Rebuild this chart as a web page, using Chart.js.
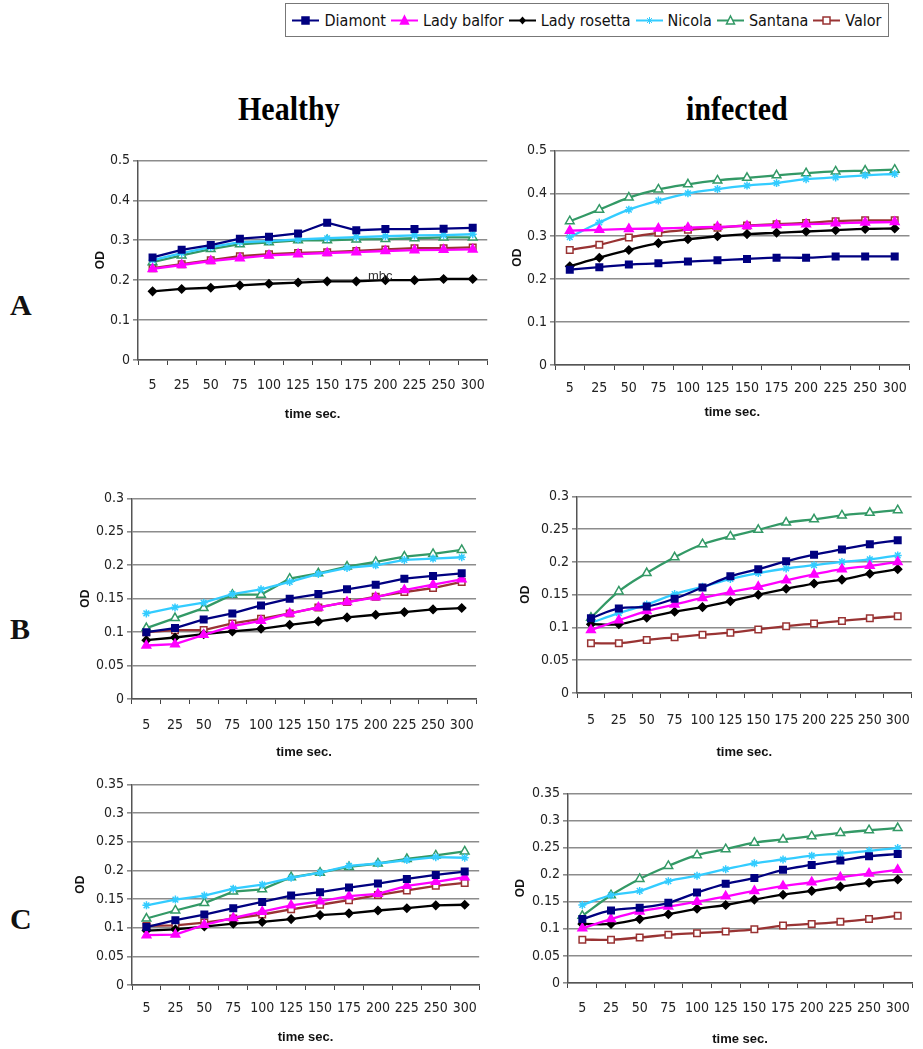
<!DOCTYPE html>
<html>
<head>
<meta charset="utf-8">
<script src="https://cdn.jsdelivr.net/npm/chart.js@4.4.1/dist/chart.umd.min.js"></script>
<style>
    body { margin: 0; background: #fff; width: 923px; height: 1049px; position: relative; overflow: hidden; }
    .panel { position: absolute; }
    .head { position: absolute; font-family: 'Liberation Serif', 'Times New Roman', serif; font-weight: bold; font-size: 30px; color: #000; transform: scaleY(1.15); transform-origin: center; }
    .row { position: absolute; font-family: 'Liberation Serif', 'Times New Roman', serif; font-weight: bold; font-size: 30px; color: #111; }
    #legend { position: absolute; left: 285px; top: 3px; width: 604px; height: 34px; border: 1px solid #777; box-sizing: border-box;
        display: flex; align-items: center; justify-content: space-around; padding: 0 4px;
        font-family: 'Liberation Sans Narrow', 'Arial Narrow', 'DejaVu Sans Condensed', 'Liberation Sans', sans-serif; font-size: 16px; color: #111; }
    #legend span.item { display: flex; align-items: center; }
    #legend svg { margin-right: 5px; }
    #mhc { position: absolute; left: 368px; top: 268px; font-family: 'Liberation Sans Narrow', 'Liberation Sans', sans-serif; font-size: 13px; color: #333; }
</style>
</head>
<body>

<div id="legend"></div>

<div class="head" style="left:238px; top:92px;">Healthy</div>
<div class="head" style="left:686px; top:92px;">infected</div>

<div class="row" style="left:10px; top:288px;">A</div>
<div class="row" style="left:10px; top:612px;">B</div>
<div class="row" style="left:10px; top:902px;">C</div>

<div class="panel" id="aHealthy"><canvas></canvas></div>
<div class="panel" id="aInfected"><canvas></canvas></div>
<div class="panel" id="bHealthy"><canvas></canvas></div>
<div class="panel" id="bInfected"><canvas></canvas></div>
<div class="panel" id="cHealthy"><canvas></canvas></div>
<div class="panel" id="cInfected"><canvas></canvas></div>

<div id="mhc">mhc</div>

<script>
const times = ['5', '25', '50', '75', '100', '125', '150', '175', '200', '225', '250', '300'];
const varieties = ['Diamont', 'Lady balfor', 'Lady rosetta', 'Nicola', 'Santana', 'Valor'];

// rows follow the order of varieties
const healthyA = [
    [0.257, 0.276, 0.288, 0.304, 0.309, 0.317, 0.344, 0.325, 0.328, 0.328, 0.329, 0.331],
    [0.228, 0.238, 0.248, 0.255, 0.262, 0.265, 0.268, 0.270, 0.273, 0.275, 0.276, 0.277],
    [0.172, 0.178, 0.181, 0.187, 0.191, 0.194, 0.197, 0.197, 0.200, 0.200, 0.203, 0.203],
    [0.250, 0.268, 0.283, 0.295, 0.298, 0.302, 0.305, 0.308, 0.310, 0.312, 0.313, 0.315],
    [0.245, 0.262, 0.278, 0.290, 0.295, 0.300, 0.300, 0.302, 0.303, 0.305, 0.307, 0.307],
    [0.230, 0.240, 0.250, 0.260, 0.265, 0.268, 0.270, 0.273, 0.277, 0.280, 0.280, 0.282]
];
const infectedA = [
    [0.222, 0.228, 0.234, 0.237, 0.241, 0.244, 0.247, 0.250, 0.250, 0.253, 0.253, 0.253],
    [0.313, 0.315, 0.317, 0.318, 0.320, 0.322, 0.324, 0.326, 0.328, 0.330, 0.332, 0.333],
    [0.230, 0.250, 0.268, 0.284, 0.293, 0.300, 0.305, 0.308, 0.311, 0.314, 0.317, 0.318],
    [0.298, 0.332, 0.362, 0.383, 0.400, 0.410, 0.418, 0.424, 0.433, 0.437, 0.442, 0.445],
    [0.335, 0.362, 0.390, 0.409, 0.421, 0.430, 0.436, 0.442, 0.447, 0.451, 0.453, 0.455],
    [0.268, 0.280, 0.297, 0.308, 0.315, 0.320, 0.325, 0.328, 0.331, 0.335, 0.337, 0.337]
];
const healthyB = [
    [0.100, 0.106, 0.119, 0.128, 0.140, 0.150, 0.157, 0.164, 0.171, 0.180, 0.184, 0.188],
    [0.080, 0.082, 0.096, 0.109, 0.117, 0.128, 0.137, 0.145, 0.152, 0.163, 0.171, 0.179],
    [0.088, 0.092, 0.097, 0.101, 0.105, 0.111, 0.116, 0.122, 0.126, 0.130, 0.134, 0.136],
    [0.128, 0.137, 0.144, 0.157, 0.164, 0.175, 0.187, 0.196, 0.200, 0.208, 0.210, 0.212],
    [0.106, 0.121, 0.136, 0.156, 0.156, 0.180, 0.188, 0.198, 0.205, 0.213, 0.217, 0.223],
    [0.100, 0.103, 0.103, 0.113, 0.120, 0.128, 0.137, 0.145, 0.153, 0.160, 0.166, 0.175]
];
const infectedB = [
    [0.114, 0.129, 0.132, 0.144, 0.161, 0.178, 0.189, 0.201, 0.211, 0.219, 0.227, 0.233],
    [0.096, 0.111, 0.125, 0.135, 0.145, 0.154, 0.162, 0.172, 0.181, 0.189, 0.194, 0.200],
    [0.105, 0.105, 0.115, 0.124, 0.131, 0.140, 0.150, 0.159, 0.167, 0.173, 0.182, 0.189],
    [0.107, 0.122, 0.135, 0.151, 0.162, 0.174, 0.183, 0.190, 0.195, 0.200, 0.204, 0.210],
    [0.115, 0.155, 0.183, 0.207, 0.227, 0.239, 0.249, 0.260, 0.265, 0.271, 0.275, 0.279],
    [0.076, 0.076, 0.081, 0.085, 0.089, 0.092, 0.097, 0.102, 0.106, 0.110, 0.114, 0.117]
];
const healthyC = [
    [0.101, 0.113, 0.123, 0.134, 0.145, 0.156, 0.162, 0.170, 0.177, 0.185, 0.192, 0.198],
    [0.087, 0.088, 0.105, 0.117, 0.128, 0.139, 0.146, 0.155, 0.159, 0.173, 0.180, 0.188],
    [0.095, 0.097, 0.102, 0.107, 0.110, 0.115, 0.122, 0.125, 0.130, 0.134, 0.139, 0.140],
    [0.139, 0.149, 0.156, 0.168, 0.175, 0.187, 0.196, 0.208, 0.212, 0.218, 0.223, 0.222],
    [0.116, 0.130, 0.143, 0.163, 0.167, 0.188, 0.196, 0.206, 0.212, 0.220, 0.226, 0.233],
    [0.103, 0.104, 0.109, 0.116, 0.123, 0.132, 0.140, 0.148, 0.157, 0.165, 0.173, 0.178]
];
const infectedC = [
    [0.118, 0.134, 0.139, 0.148, 0.167, 0.183, 0.194, 0.209, 0.218, 0.226, 0.234, 0.238],
    [0.101, 0.118, 0.132, 0.141, 0.150, 0.160, 0.170, 0.179, 0.186, 0.195, 0.202, 0.209],
    [0.109, 0.109, 0.118, 0.127, 0.137, 0.144, 0.154, 0.163, 0.170, 0.178, 0.185, 0.191],
    [0.144, 0.162, 0.170, 0.188, 0.198, 0.210, 0.221, 0.228, 0.235, 0.239, 0.244, 0.249],
    [0.124, 0.162, 0.192, 0.216, 0.236, 0.247, 0.259, 0.265, 0.271, 0.277, 0.282, 0.286],
    [0.080, 0.080, 0.084, 0.089, 0.092, 0.095, 0.099, 0.106, 0.109, 0.113, 0.118, 0.124]
];

const colors = ['#000080', '#FF00FF', '#000000', '#33CCFF', '#339966', '#993333'];
const fills = ['#000080', '#FF00FF', '#000000', '#33CCFF', '#ffffff', '#ffffff'];
const markers = ['rect', 'triangle', 'rectRot', 'star', 'triangle', 'rect'];
const radii = [4.6, 5, 4, 4, 5, 4.6];

const NARROW = "'Liberation Sans Narrow', 'Arial Narrow', 'DejaVu Sans Condensed', 'Liberation Sans', sans-serif";
const SANS = "'Liberation Sans', Arial, sans-serif";

// legend, drawn as html
const legend = document.getElementById('legend');
varieties.forEach((name, i) => {
    let mark = '';
    if (markers[i] === 'rect') mark = `<rect x="10" y="4" width="7" height="7" fill="${fills[i]}" stroke="${colors[i]}" stroke-width="1.5"/>`;
    if (markers[i] === 'triangle') mark = `<polygon points="13.5,3 17.5,11 9.5,11" fill="${fills[i]}" stroke="${colors[i]}" stroke-width="1.5"/>`;
    if (markers[i] === 'rectRot') mark = `<polygon points="13.5,3.5 17,7.5 13.5,11.5 10,7.5" fill="${fills[i]}"/>`;
    if (markers[i] === 'star') mark = `<path d="M13.5 4v7M10 7.5h7M11 5l5 5M16 5l-5 5" stroke="${colors[i]}" stroke-width="1"/>`;
    const item = document.createElement('span');
    item.className = 'item';
    item.innerHTML = `<svg width="27" height="15"><line x1="0" y1="7.5" x2="27" y2="7.5" stroke="${colors[i]}" stroke-width="2"/>${mark}</svg>${name}`;
    legend.append(item);
});

function makePanel(id, box, rows, yMax, yStep, smooth) {
    const el = document.getElementById(id);
    const left = box.l - box.yW;
    const top = box.t - 10;
    el.style.left = left + 'px';
    el.style.top = top + 'px';
    el.style.width = (box.r + 4 - left) + 'px';
    el.style.height = (box.b + box.xH - top) + 'px';

    new Chart(el.querySelector('canvas'), {
        type: 'line',
        data: {
            labels: times,
            datasets: rows.map((vals, i) => ({
                label: varieties[i],
                data: vals,
                borderColor: colors[i],
                backgroundColor: fills[i],
                pointBorderColor: colors[i],
                pointBackgroundColor: fills[i],
                pointStyle: markers[i],
                pointRadius: radii[i],
                pointBorderWidth: 1.5,
                borderWidth: 2.3,
                tension: smooth ? 0.4 : 0
            }))
        },
        options: {
            responsive: true,
            maintainAspectRatio: false,
            animation: false,
            layout: { padding: { top: 10, right: 4, left: 0, bottom: 0 } },
            plugins: { legend: { display: false }, tooltip: { enabled: false } },
            scales: {
                x: {
                    offset: true,
                    grid: { offset: true, drawOnChartArea: false, tickLength: 5, color: '#444', lineWidth: 1 },
                    border: { color: '#555', width: 1.5 },
                    ticks: { font: { family: NARROW, size: 14 }, color: '#222', padding: box.tp, maxRotation: 0, autoSkip: false },
                    title: { display: true, text: 'time sec.', font: { family: SANS, size: 13, weight: 'bold' }, color: '#111', padding: 0 },
                    afterFit(scale) { scale.height = box.xH; }
                },
                y: {
                    min: 0,
                    max: yMax,
                    grid: { color: '#8c8c8c', lineWidth: 1.6, tickLength: 5 },
                    border: { color: '#555', width: 1.5 },
                    ticks: {
                        stepSize: yStep,
                        font: { family: NARROW, size: 14 },
                        color: '#222',
                        padding: 3,
                        callback: (v) => String(Number(v.toFixed(2)))
                    },
                    title: { display: true, text: 'OD', font: { family: SANS, size: 12, weight: 'bold' }, color: '#111', padding: 0 },
                    afterFit(scale) { scale.width = box.yW; }
                }
            }
        }
    });
}

makePanel('aHealthy', { l: 138, r: 493, t: 159, b: 360, yW: 45, xH: 62, tp: 12 }, healthyA, 0.5, 0.1, false);
makePanel('aInfected', { l: 555, r: 913, t: 149, b: 365, yW: 45, xH: 55, tp: 10 }, infectedA, 0.5, 0.1, true);
makePanel('bHealthy', { l: 132, r: 483, t: 497, b: 699, yW: 54, xH: 61, tp: 13 }, healthyB, 0.3, 0.05, false);
makePanel('bInfected', { l: 577, r: 920, t: 495, b: 693, yW: 59, xH: 67, tp: 14 }, infectedB, 0.3, 0.05, true);
makePanel('cHealthy', { l: 132, r: 483, t: 783, b: 985, yW: 59, xH: 60, tp: 10 }, healthyC, 0.35, 0.05, false);
makePanel('cInfected', { l: 568, r: 918, t: 792, b: 983, yW: 55, xH: 64, tp: 12 }, infectedC, 0.35, 0.05, true);
</script>
</body>
</html>
